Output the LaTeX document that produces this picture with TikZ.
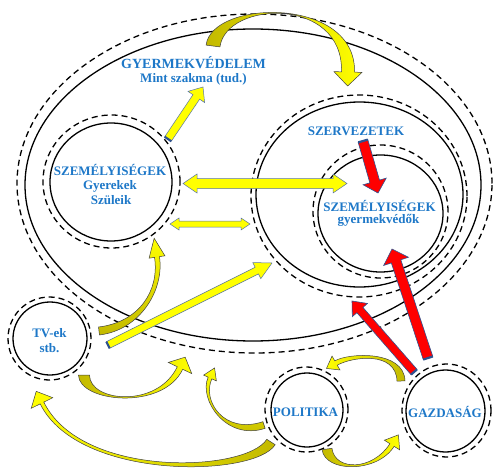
\documentclass[tikz,border=0pt]{standalone}
\usepackage{fontspec}
\setmainfont{Liberation Serif}
\usetikzlibrary{calc,shapes.geometric}
\definecolor{txtblue}{RGB}{30,120,200}
\definecolor{capblue}{RGB}{47,82,143}
\definecolor{olivey}{RGB}{195,185,0}
\definecolor{ylw}{RGB}{255,255,0}
\tikzset{
  ell/.style={ellipse, inner sep=0pt, outer sep=0pt},
  ring/.style={draw=black, line width=1.3pt},
  dring/.style={draw=black, line width=1.3pt, dash pattern=on 6pt off 4pt},
  lbl/.style={text=txtblue, font=\bfseries\fontsize{13}{15}\selectfont, inner sep=0pt, anchor=base},
  yarrow/.style={fill=ylw, draw=capblue!80, line width=0.5pt},
  rarrow/.style={fill=red, draw=capblue, line width=0.6pt},
  tailcap/.style={draw=capblue, line width=2.2pt},
  carrow/.style={draw=black!75, line width=0.5pt},
}
% straight block arrow: tail, tip, shaft half width, head half width, head length, style
\newcommand\sarrow[6]{%
  \coordinate (sB) at ($(#2)!#5!(#1)$);
  \path[#6] ($(#1)!#3!90:(#2)$) -- ($(sB)!#3!-90:(#1)$) -- ($(sB)!#4!-90:(#1)$) -- (#2)
     -- ($(sB)!#4!90:(#1)$) -- ($(sB)!#3!90:(#1)$) -- ($(#1)!#3!-90:(#2)$) -- cycle;
  \draw[tailcap] ($(#1)!#3!90:(#2)$) -- ($(#1)!#3!-90:(#2)$);
}
% double block arrow: end A, end B, shaft half, head half, head length
\newcommand\darrow[5]{%
  \coordinate (dA) at ($(#1)!#5!(#2)$);
  \coordinate (dB) at ($(#2)!#5!(#1)$);
  \path[yarrow] (#1) -- ($(dA)!#4!90:(#2)$) -- ($(dA)!#3!90:(#2)$) -- ($(dB)!#3!-90:(#1)$)
     -- ($(dB)!#4!-90:(#1)$) -- (#2) -- ($(dB)!#4!90:(#1)$) -- ($(dB)!#3!90:(#1)$)
     -- ($(dA)!#3!-90:(#2)$) -- ($(dA)!#4!-90:(#2)$) -- cycle;
}
% curved block arrow: tail, c1, c2, head base, tail half, end half, head half, head length, shading
\newcommand\carrow[9]{%
  \coordinate (cTa) at ($(#1)!#5!90:(#2)$);
  \coordinate (cTb) at ($(#1)!#5!-90:(#2)$);
  \coordinate (cEa) at ($(#4)!#6!-90:(#3)$);
  \coordinate (cEb) at ($(#4)!#6!90:(#3)$);
  \coordinate (cHa) at ($(#4)!#7!-90:(#3)$);
  \coordinate (cHb) at ($(#4)!#7!90:(#3)$);
  \coordinate (cTip) at ($(#4)!#8!180:(#3)$);
  \coordinate (c1a) at ($(#2)+(cTa)-(#1)$);
  \coordinate (c1b) at ($(#2)+(cTb)-(#1)$);
  \coordinate (c2a) at ($(#3)+(cEa)-(#4)$);
  \coordinate (c2b) at ($(#3)+(cEb)-(#4)$);
  \path[carrow,#9] (cTa) .. controls (c1a) and (c2a) .. (cEa) -- (cHa) -- (cTip) -- (cHb)
     -- (cEb) .. controls (c2b) and (c1b) .. (cTb) -- cycle;
}
\begin{document}
\begin{tikzpicture}[x=1pt,y=-1pt]
\fill[white] (0,0) rectangle (497,468);
\useasboundingbox (0,0) rectangle (497,468);

% rings
\node[ell, dring, minimum width=475pt, minimum height=339pt] (bigD) at (254.5,183.5) {};
\node[ell, ring, minimum width=456pt, minimum height=312pt] (bigS) at (253,185) {};
\node[ell, dring, minimum width=137pt, minimum height=133pt] (leftD) at (111.5,181.5) {};
\node[ell, ring, minimum width=122pt, minimum height=118pt] (leftS) at (111,182) {};
\node[ell, dring, minimum width=216pt, minimum height=202pt] (szD) at (359,196) {};
\node[ell, ring, minimum width=207pt, minimum height=185pt] (szS) at (359.5,194.5) {};
\node[ell, dring, minimum width=135pt, minimum height=133pt] (inD) at (380.5,211.5) {};
\node[ell, ring, minimum width=125pt, minimum height=117pt] (inS) at (380.5,213.5) {};
\node[ell, dring, minimum width=83pt, minimum height=83pt] (tvD) at (49.5,338.5) {};
\node[ell, ring, minimum width=74pt, minimum height=73pt] (tvS) at (50,338.5) {};
\node[ell, dring, minimum width=83pt, minimum height=85pt] (poD) at (306.5,409.5) {};
\node[ell, ring, minimum width=72pt, minimum height=74pt] (poS) at (307,410) {};
\node[ell, dring, minimum width=89pt, minimum height=93pt] (gaD) at (446.5,410.5) {};
\node[ell, ring, minimum width=79pt, minimum height=82pt] (gaS) at (445.5,411) {};

% labels
\node[lbl, font=\bfseries\fontsize{14}{15}\selectfont] (tGy) at (193.5,68.5) {GYERMEKVÉDELEM};
\node[lbl] (tMi) at (193.5,83) {Mint szakma (tud.)};
\node[lbl] (tSz1) at (110,175) {SZEMÉLYISÉGEK};
\node[lbl] (tGye) at (110,189.5) {Gyerekek};
\node[lbl] (tSzu) at (111,204) {Szüleik};
\node[lbl] (tSzv) at (356,135.5) {SZERVEZETEK};
\node[lbl] (tSz2) at (379.5,211.5) {SZEMÉLYISÉGEK};
\node[lbl] (tGv) at (378.5,223.5) {gyermekvédők};
\node[lbl] (tTv) at (49.5,337) {TV-ek};
\node[lbl] (tStb) at (49.5,352) {stb.};
\node[lbl] (tPo) at (305.5,416.5) {POLITIKA};
\node[lbl] (tGa) at (445,417) {GAZDASÁG};

% arrow end points
\coordinate (aT) at (213,46);  \coordinate (aC1) at (219,0);  \coordinate (aC2) at (350,-4); \coordinate (aE) at (348,72);
\coordinate (bT) at (99,331);  \coordinate (bC1) at (140,326); \coordinate (bC2) at (162,290); \coordinate (bE) at (157,257);
\coordinate (cT) at (84,375);  \coordinate (cC1) at (84,402);  \coordinate (cC2) at (160,410); \coordinate (cE) at (180,368);
\coordinate (dT) at (271,442); \coordinate (dC1) at (250,475); \coordinate (dC2) at (80,480);  \coordinate (dE) at (42,403);
\coordinate (eT) at (264,425); \coordinate (eC1) at (225,438); \coordinate (eC2) at (200,400); \coordinate (eE) at (210,378);
\coordinate (fT) at (327,449); \coordinate (fC1) at (330,472); \coordinate (fC2) at (375,472); \coordinate (fE) at (392,445);
\coordinate (gT) at (401,381); \coordinate (gC1) at (400,350); \coordinate (gC2) at (350,355); \coordinate (gE) at (336,363);

\coordinate (hT) at (168,139); \coordinate (hH) at (203,87);
\coordinate (kT) at (108,345); \coordinate (kH) at (272,263);
\coordinate (lT) at (363,141); \coordinate (lH) at (378,193);
\coordinate (mT) at (428,358); \coordinate (mH) at (392,249);
\coordinate (nT) at (414,372); \coordinate (nH) at (352,301);
\coordinate (iA) at (183,183.5); \coordinate (iB) at (347,183.5);
\coordinate (jA) at (170,224); \coordinate (jB) at (250,224);

% curved arrows
\carrow{aT}{aC1}{aC2}{aE}{7pt}{6.5pt}{14pt}{14pt}{left color=olivey,right color=ylw}
\carrow{bT}{bC1}{bC2}{bE}{4pt}{2.5pt}{8pt}{19pt}{bottom color=olivey,top color=ylw}
\carrow{cT}{cC1}{cC2}{cE}{5.5pt}{3pt}{13pt}{12pt}{left color=olivey,right color=ylw}
\carrow{dT}{dC1}{dC2}{dE}{5pt}{2pt}{12pt}{13pt}{right color=olivey,left color=ylw}
\carrow{eT}{eC1}{eC2}{eE}{3.5pt}{2pt}{7pt}{11pt}{bottom color=olivey,top color=ylw}
\carrow{fT}{fC1}{fC2}{fE}{5pt}{2.5pt}{9pt}{12pt}{left color=olivey,right color=ylw}
\carrow{gT}{gC1}{gC2}{gE}{4pt}{2.5pt}{8pt}{11pt}{right color=olivey,left color=ylw}

% straight arrows
\sarrow{hT}{hH}{4pt}{10pt}{12pt}{yarrow}
\sarrow{kT}{kH}{3.7pt}{9pt}{17pt}{yarrow}
\darrow{iA}{iB}{5pt}{9.5pt}{14pt}
\darrow{jA}{jB}{3pt}{6pt}{9pt}
\sarrow{lT}{lH}{5pt}{12pt}{12pt}{rarrow}
\sarrow{mT}{mH}{5pt}{13pt}{13pt}{rarrow}
\sarrow{nT}{nH}{4pt}{10pt}{12pt}{rarrow}
\end{tikzpicture}
\end{document}
